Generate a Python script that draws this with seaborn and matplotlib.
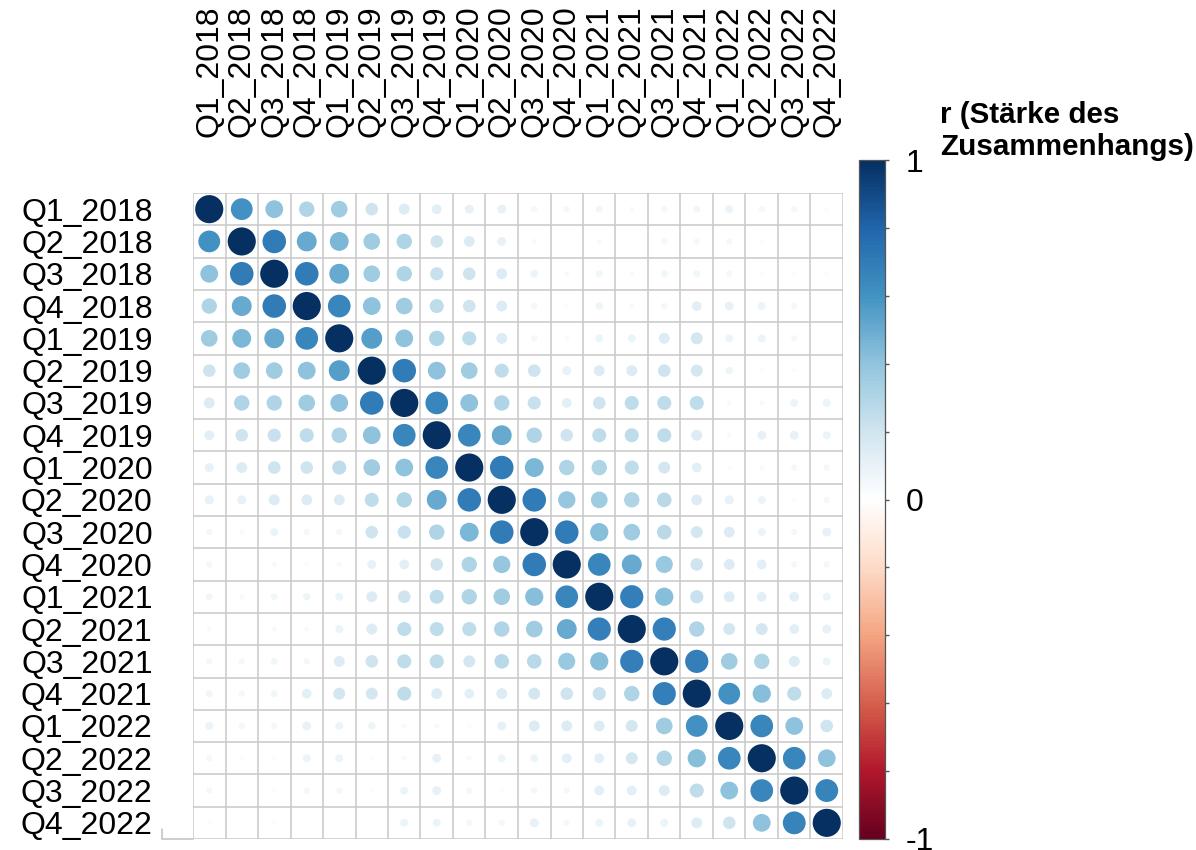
import numpy as np
import pandas as pd
import matplotlib
matplotlib.use("Agg")
import matplotlib.pyplot as plt
from matplotlib.colors import LinearSegmentedColormap, Normalize
from matplotlib.lines import Line2D
import seaborn as sns

labels = ["Q1_2018", "Q2_2018", "Q3_2018", "Q4_2018",
          "Q1_2019", "Q2_2019", "Q3_2019", "Q4_2019",
          "Q1_2020", "Q2_2020", "Q3_2020", "Q4_2020",
          "Q1_2021", "Q2_2021", "Q3_2021", "Q4_2021",
          "Q1_2022", "Q2_2022", "Q3_2022", "Q4_2022"]

# lower triangle (row i, columns 0..i-1); the matrix is symmetric, diagonal = 1
lower = [
    [],
    [0.60],
    [0.40, 0.70],
    [0.30, 0.50, 0.70],
    [0.35, 0.45, 0.50, 0.65],
    [0.20, 0.35, 0.35, 0.40, 0.55],
    [0.15, 0.30, 0.30, 0.35, 0.40, 0.70],
    [0.12, 0.20, 0.22, 0.25, 0.30, 0.40, 0.65],
    [0.10, 0.15, 0.20, 0.20, 0.25, 0.35, 0.40, 0.65],
    [0.10, 0.10, 0.15, 0.15, 0.15, 0.25, 0.30, 0.50, 0.70],
    [0.05, 0.03, 0.08, 0.05, 0.05, 0.20, 0.22, 0.30, 0.45, 0.70],
    [0.05, 0.01, 0.03, 0.02, 0.03, 0.10, 0.12, 0.20, 0.30, 0.38, 0.70],
    [0.06, 0.03, 0.06, 0.07, 0.08, 0.15, 0.20, 0.25, 0.30, 0.35, 0.42, 0.65],
    [0.03, 0.01, 0.03, 0.03, 0.08, 0.15, 0.25, 0.25, 0.25, 0.30, 0.35, 0.50, 0.68],
    [0.05, 0.05, 0.06, 0.05, 0.15, 0.20, 0.25, 0.25, 0.18, 0.27, 0.27, 0.37, 0.42, 0.68],
    [0.06, 0.05, 0.06, 0.12, 0.18, 0.18, 0.25, 0.15, 0.12, 0.15, 0.18, 0.20, 0.22, 0.30, 0.68],
    [0.08, 0.05, 0.05, 0.10, 0.08, 0.07, 0.03, 0.03, 0.02, 0.10, 0.15, 0.15, 0.15, 0.18, 0.35, 0.60],
    [0.05, 0.02, 0.02, 0.08, 0.08, 0.02, 0.03, 0.10, 0.03, 0.08, 0.08, 0.12, 0.12, 0.18, 0.30, 0.42, 0.65],
    [0.05, 0.01, 0.02, 0.05, 0.05, 0.02, 0.08, 0.10, 0.05, 0.02, 0.05, 0.05, 0.12, 0.12, 0.15, 0.25, 0.40, 0.65],
    [0.02, 0.00, 0.02, 0.01, 0.01, 0.00, 0.08, 0.08, 0.05, 0.05, 0.10, 0.05, 0.08, 0.10, 0.08, 0.15, 0.20, 0.40, 0.66],
]

n = len(labels)
corr = np.eye(n)
for i, row in enumerate(lower):
    for j, v in enumerate(row):
        corr[i, j] = v
        corr[j, i] = v

records = []
for i in range(n):
    for j in range(n):
        records.append({"col": j, "row": i, "r": corr[i, j], "absr": abs(corr[i, j])})
df = pd.DataFrame(records)

rdbu_cols = ["#67001F", "#B2182B", "#D6604D", "#F4A582", "#FDDBC7", "#FFFFFF",
             "#D1E5F0", "#92C5DE", "#4393C3", "#2166AC", "#053061"]
cmap = LinearSegmentedColormap.from_list("corrRdBu", rdbu_cols, N=200)

sns.set_theme(style="white")
plt.rcParams["font.family"] = ["Liberation Sans", "DejaVu Sans"]
plt.rcParams["text.color"] = "black"
plt.rcParams["xtick.color"] = "black"
plt.rcParams["ytick.color"] = "black"
plt.rcParams["xtick.labelcolor"] = "black"
plt.rcParams["ytick.labelcolor"] = "black"

W, H = 1196, 850
fig = plt.figure(figsize=(W / 100, H / 100), dpi=100)
ax = fig.add_axes([193 / W, 1 - 839 / H, 650 / W, 646 / H])

# grid
for k in range(n + 1):
    ax.axvline(k - 0.5, color="#c8c8c8", lw=1.1, zorder=0)
    ax.axhline(k - 0.5, color="#c8c8c8", lw=1.1, zorder=0)

sns.scatterplot(data=df, x="col", y="row", hue="r", palette=cmap, hue_norm=(-1, 1),
                size="absr", sizes=(0, 410), size_norm=(0, 1),
                linewidth=0, legend=False, ax=ax, zorder=3)

ax.set_xlim(-0.5, n - 0.5)
ax.set_ylim(n - 0.5, -0.5)
for s in ax.spines.values():
    s.set_visible(False)
ax.set_xlabel("")
ax.set_ylabel("")
ax.xaxis.tick_top()
ax.set_xticks(range(n))
ax.set_xticklabels(labels, rotation=90, fontsize=23, color="black")
ax.set_yticks(range(n))
ax.set_yticklabels(labels, fontsize=23, color="black")
ax.tick_params(axis="x", length=0, pad=40, top=True, bottom=False)
ax.tick_params(axis="y", length=0, pad=29)

# small L-shaped corner line at bottom left
fig.add_artist(Line2D([162 / W, 162 / W, 193 / W], [1 - 829 / H, 1 - 839 / H, 1 - 839 / H],
                      transform=fig.transFigure, color="#c0c0c0", lw=1.1))

# colorbar
cax = fig.add_axes([859 / W, 1 - 839 / H, 26 / W, 679 / H])
sm = plt.cm.ScalarMappable(norm=Normalize(-1, 1), cmap=cmap)
cb = fig.colorbar(sm, cax=cax)
ticks = np.round(np.arange(-1, 1.01, 0.2), 1)
cb.set_ticks(ticks)
cb.set_ticklabels(["-1" if t == -1 else ("0" if t == 0 else ("1" if t == 1 else "")) for t in ticks])
cax.tick_params(length=3, width=1, color="#555555", labelsize=23, labelcolor="black", pad=12)
cb.outline.set_edgecolor("#555555")
cb.outline.set_linewidth(0.9)

fig.text(940 / W, 1 - 101 / H, "r (Stärke des\nZusammenhangs)", fontsize=21.3,
         fontweight="bold", va="top", ha="left", color="black")

fig.savefig("out.png", dpi=100, facecolor="white")
